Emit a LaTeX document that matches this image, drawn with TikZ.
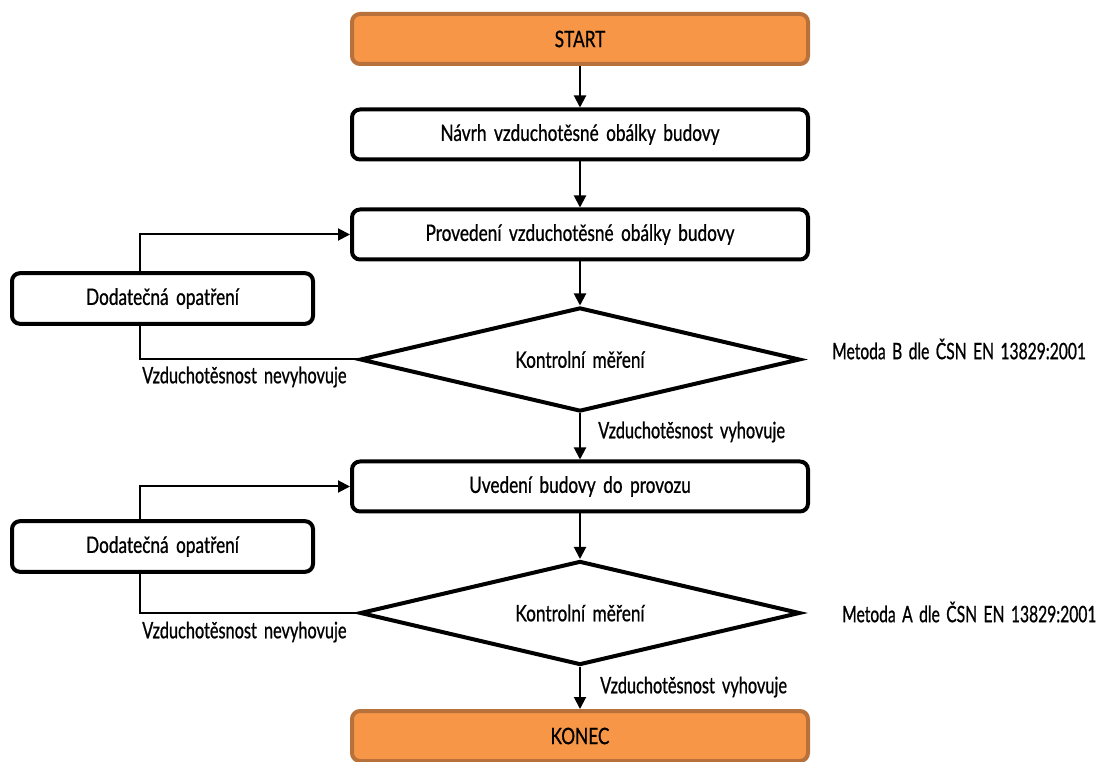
\documentclass[tikz,border=0pt]{standalone}
\usepackage{fontspec}
\setmainfont[FakeStretch=0.76,FakeBold=0.8,WordSpace=1.7]{Lato}
\newfontfamily\labelfont[FakeStretch=0.72,FakeBold=0.8,WordSpace=1.7]{Lato}
\newfontfamily\notefont[FakeStretch=0.69,FakeBold=0.8,WordSpace=1.6]{Lato}
\usetikzlibrary{arrows.meta,shapes.geometric,calc}
\definecolor{accent}{HTML}{F79646}
\definecolor{accentdark}{HTML}{B8713A}

\begin{document}
\begin{tikzpicture}[x=0.75pt,y=-0.75pt,
  every node/.style={font=\fontsize{17}{20}\selectfont},
  box/.style={draw,line width=3pt,rounded corners=6pt,minimum width=342pt,minimum height=37.5pt,inner sep=0pt,fill=white},
  term/.style={box,draw=accentdark,fill=accent},
  side/.style={draw,line width=3pt,rounded corners=6pt,minimum width=225.75pt,minimum height=38pt,inner sep=0pt},
  decision/.style={diamond,draw,line width=3pt,shape aspect=4.2,minimum width=330pt,minimum height=78pt,inner sep=0pt},
  flow/.style={line width=1.5pt,-{Triangle[length=9pt,width=9pt]}},
  link/.style={line width=1.5pt},
  lbl/.style={anchor=west,inner sep=0pt,font=\labelfont\fontsize{17}{20}\selectfont},
  note/.style={anchor=west,inner sep=0pt,font=\notefont\fontsize{17}{20}\selectfont}
]
\useasboundingbox (0,0) rectangle (1110,762);

% main column
\node[term] (start) at (580,39) {START};
\node[box] (design) at (580,134.5) {Návrh vzduchotěsné obálky budovy};
\node[box] (build) at (580,234.5) {Provedení vzduchotěsné obálky budovy};
\node[decision] (test1) at (580,359.5) {Kontrolní měření};
\node[box] (commission) at (580,486.5) {Uvedení budovy do provozu};
\node[decision] (test2) at (580,613) {Kontrolní měření};
\node[term] (end) at (580,736) {KONEC};

% remedial steps
\node[side] (fix1) at (162.5,298.5) {Dodatečná opatření};
\node[side] (fix2) at (162.5,546.5) {Dodatečná opatření};

% main flow
\draw[flow] (start) -- (design);
\draw[flow] (design) -- (build);
\draw[flow] (build) -- (test1);
\draw[flow] (test1) -- (commission);
\draw[flow] (commission) -- (test2);
\draw[flow] (test2) -- (end);

% loops back after a failed test
\draw[link] (test1.west) -| ([xshift=-16.875pt]fix1.south);
\draw[flow] ([xshift=-16.875pt]fix1.north) |- (build.west);
\draw[link] (test2.west) -| ([xshift=-16.875pt]fix2.south);
\draw[flow] ([xshift=-16.875pt]fix2.north) |- (commission.west);

% labels
\node[lbl] (no1) at (142,377) {Vzduchotěsnost nevyhovuje};
\node[lbl] (yes1) at (598,432) {Vzduchotěsnost vyhovuje};
\node[note] (refB) at (832,349) {Metoda B dle ČSN EN 13829:2001};
\node[lbl] (no2) at (142,632) {Vzduchotěsnost nevyhovuje};
\node[lbl] (yes2) at (600,687) {Vzduchotěsnost vyhovuje};
\node[note] (refA) at (842,612) {Metoda A dle ČSN EN 13829:2001};
\end{tikzpicture}
\end{document}
